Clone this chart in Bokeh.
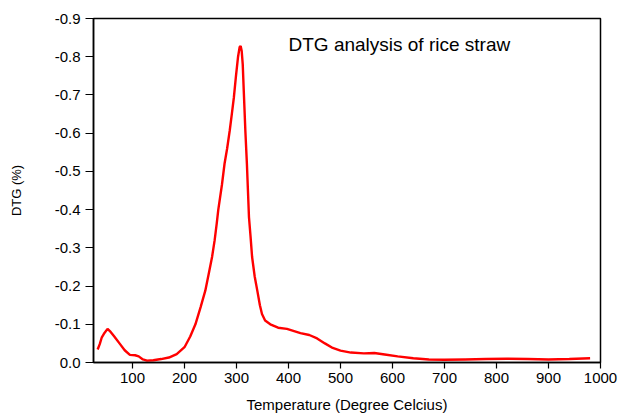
from bokeh.plotting import figure
from bokeh.models import Range1d, FixedTicker, Label
from bokeh.embed import file_html
from bokeh.resources import INLINE

temperature = [33, 37, 41, 45, 52, 58, 65, 75, 85, 95, 105, 112, 120, 128, 140, 155, 170, 185,
               200, 211, 221, 231, 240, 247, 253, 258, 262, 265, 272, 277, 282, 287, 291, 295,
               299, 303, 306, 308, 310, 312, 314, 317, 320, 322, 324, 327, 330, 335, 340, 345,
               349, 355, 365, 380, 397, 423, 440, 455, 470, 485, 500, 520, 545, 565, 585, 610,
               640, 670, 700, 740, 780, 820, 860, 900, 940, 980]
dtg = [-0.034, -0.048, -0.066, -0.075, -0.088, -0.080, -0.068, -0.050, -0.032, -0.020, -0.019,
       -0.016, -0.008, -0.005, -0.006, -0.009, -0.013, -0.022,
       -0.040, -0.068, -0.100, -0.145, -0.188, -0.235, -0.276, -0.320, -0.364, -0.400, -0.465,
       -0.520, -0.560, -0.607, -0.650, -0.694, -0.750, -0.800, -0.825, -0.828, -0.815, -0.780,
       -0.710, -0.607, -0.520, -0.450, -0.380, -0.330, -0.276, -0.225, -0.188, -0.150,
       -0.127, -0.110, -0.100, -0.091, -0.088, -0.077, -0.072, -0.063, -0.050, -0.038, -0.031,
       -0.026, -0.024, -0.025, -0.021, -0.016, -0.011, -0.008, -0.007, -0.008, -0.009, -0.010,
       -0.009, -0.008, -0.009, -0.011]

x_ticks = [100, 200, 300, 400, 500, 600, 700, 800, 900, 1000]
y_ticks = [0.0, -0.1, -0.2, -0.3, -0.4, -0.5, -0.6, -0.7, -0.8, -0.9]
y_tick_labels = ["0.0", "-0.1", "-0.2", "-0.3", "-0.4", "-0.5", "-0.6", "-0.7", "-0.8", "-0.9"]

title_text = "DTG analysis of rice straw"
x_label = "Temperature (Degree Celcius)"
y_label = "DTG (%)"

FONT = "Liberation Sans"

p = figure(width=619, height=416, output_backend="svg", toolbar_location=None,
           x_range=Range1d(25, 1000), y_range=Range1d(0.0, -0.9),
           min_border_left=93, min_border_right=19, min_border_top=18, min_border_bottom=54)
p.grid.visible = False
p.outline_line_color = "black"
p.outline_line_width = 1.5
p.background_fill_color = "white"
p.border_fill_color = "white"

p.line(temperature, dtg, line_color="#ff0000", line_width=2.4)

for ax in p.xaxis:
    ax.ticker = FixedTicker(ticks=x_ticks)
    ax.axis_label = x_label
for ax in p.yaxis:
    ax.ticker = FixedTicker(ticks=y_ticks)
    ax.major_label_overrides = {t: l for t, l in zip(y_ticks, y_tick_labels)}
    ax.axis_label = y_label

for ax in list(p.xaxis) + list(p.yaxis):
    ax.axis_line_color = "black"
    ax.axis_line_width = 1.5
    ax.major_tick_line_color = "black"
    ax.major_tick_line_width = 1.2
    ax.major_tick_in = 0
    ax.minor_tick_line_color = None
    ax.major_label_text_font = FONT
    ax.major_label_text_font_size = "15px"
    ax.major_label_text_color = "black"
    ax.axis_label_text_font = FONT
    ax.axis_label_text_font_style = "normal"
    ax.axis_label_text_color = "black"

p.xaxis.axis_label_text_font_size = "15px"
p.yaxis.axis_label_text_font_size = "13px"
p.xaxis.major_tick_out = 6
p.xaxis.major_label_standoff = 4
p.xaxis.axis_label_standoff = 10
p.yaxis.major_tick_out = 8
p.yaxis.major_label_standoff = 5
p.yaxis.axis_label_standoff = 28

p.add_layout(Label(x=400, y=-0.832, text=title_text, text_font=FONT, text_font_size="19px",
                   text_color="black", text_baseline="alphabetic", text_align="left"))

open("out.html", "w").write(file_html(p, INLINE))
